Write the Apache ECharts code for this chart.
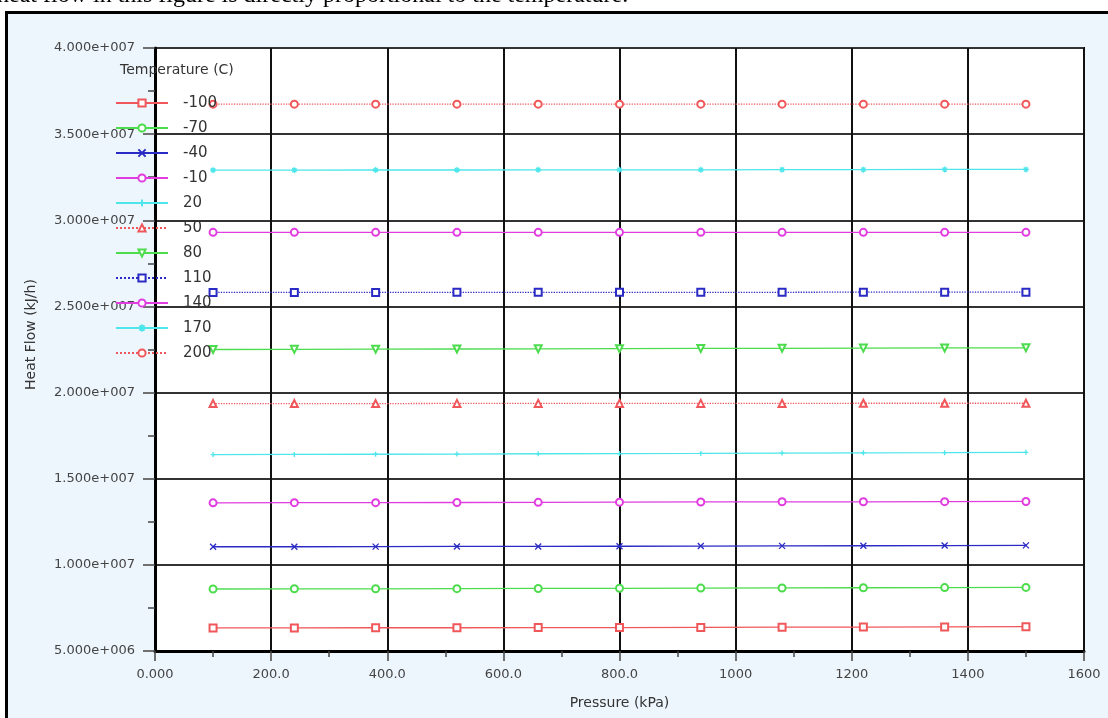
<!DOCTYPE html>
<html>
<head>
<meta charset="utf-8">
<script src="https://cdn.jsdelivr.net/npm/echarts@6/dist/echarts.min.js"></script>
<style>
  html, body { margin: 0; padding: 0; background: #fff; }
  #main { width: 1108px; height: 718px; }
</style>
</head>
<body>
<div id="main"></div>
<script>
// pressure points (kPa)
const pressure = [100, 240, 380, 520, 660, 800, 940, 1080, 1220, 1360, 1500]
const temps = ['-100', '-70', '-40', '-10', '20', '50', '80', '110', '140', '170', '200']

// heat flow (kJ/h) for each temperature
const hfM100 = [6.34e6, 6.34e6, 6.35e6, 6.35e6, 6.36e6, 6.36e6, 6.37e6, 6.38e6, 6.39e6, 6.40e6, 6.41e6]
const hfM70 = [8.60e6, 8.61e6, 8.61e6, 8.62e6, 8.63e6, 8.64e6, 8.65e6, 8.66e6, 8.67e6, 8.68e6, 8.69e6]
const hfM40 = [1.105e7, 1.105e7, 1.106e7, 1.107e7, 1.107e7, 1.108e7, 1.109e7, 1.110e7, 1.111e7, 1.112e7, 1.113e7]
const hfM10 = [1.360e7, 1.361e7, 1.361e7, 1.362e7, 1.363e7, 1.364e7, 1.365e7, 1.366e7, 1.366e7, 1.367e7, 1.368e7]
const hf20 = [1.640e7, 1.641e7, 1.642e7, 1.643e7, 1.645e7, 1.646e7, 1.647e7, 1.649e7, 1.650e7, 1.651e7, 1.653e7]
const hf50 = [1.936e7, 1.936e7, 1.936e7, 1.937e7, 1.937e7, 1.937e7, 1.937e7, 1.937e7, 1.938e7, 1.938e7, 1.938e7]
const hf80 = [2.250e7, 2.251e7, 2.252e7, 2.253e7, 2.254e7, 2.255e7, 2.256e7, 2.257e7, 2.258e7, 2.259e7, 2.260e7]
const hf110 = [2.581e7, 2.581e7, 2.581e7, 2.582e7, 2.582e7, 2.582e7, 2.582e7, 2.582e7, 2.583e7, 2.583e7, 2.583e7]
const hf140 = [2.930e7, 2.930e7, 2.930e7, 2.930e7, 2.930e7, 2.930e7, 2.930e7, 2.930e7, 2.930e7, 2.930e7, 2.930e7]
const hf170 = [3.291e7, 3.291e7, 3.292e7, 3.292e7, 3.293e7, 3.293e7, 3.293e7, 3.294e7, 3.294e7, 3.295e7, 3.295e7]
const hf200 = [3.674e7, 3.674e7, 3.674e7, 3.674e7, 3.674e7, 3.674e7, 3.674e7, 3.674e7, 3.674e7, 3.674e7, 3.674e7]

const xTickLabels = ['0.000', '200.0', '400.0', '600.0', '800.0', '1000', '1200', '1400', '1600']
const yTickLabels = ['5.000e+006', '1.000e+007', '1.500e+007', '2.000e+007', '2.500e+007', '3.000e+007', '3.500e+007', '4.000e+007']

const RED = '#f0575a', GREEN = '#4ddc4d', BLUE = '#2a2ac4', MAG = '#e03ce0', CYAN = '#4ee6ea'
const X_PATH = 'path://M0,0L10,10M10,0L0,10'
const STAR_PATH = 'path://M5,0L5,10M0,5L10,5M1.5,1.5L8.5,8.5M8.5,1.5L1.5,8.5'
const PLUS_PATH = 'path://M5,1L5,9M1,5L9,5'

function mkSeries(name, data, color, symbol, dotted, rotate, size) {
  return {
    name: name,
    type: 'line',
    data: pressure.map((p, i) => [p, data[i]]),
    symbol: symbol,
    symbolSize: size || 7,
    symbolRotate: rotate || 0,
    showAllSymbol: true,
    animation: false,
    lineStyle: { color: color, width: 1.3, type: dotted ? 'dotted' : 'solid' },
    itemStyle: { color: color, borderColor: color, borderWidth: 1.3 }
  }
}

const myChart = echarts.init(document.getElementById('main'))
myChart.setOption({
  backgroundColor: '#fff',
  graphic: [
    {
      type: 'rect', z: -10, silent: true,
      shape: { x: 6.5, y: 12.5, width: 1200, height: 800 },
      style: { fill: '#eef6fd', stroke: '#000', lineWidth: 3 }
    },
    {
      type: 'text', left: -3, top: -16, silent: true,
      style: {
        text: 'heat flow in this figure is directly proportional to the temperature.',
        font: '24px "Liberation Serif"', fill: '#000'
      }
    }
  ],
  title: {
    text: 'Temperature (C)',
    left: 120, top: 63, padding: 0,
    textStyle: { fontFamily: 'DejaVu Sans', fontSize: 14, fontWeight: 'normal', color: '#333' }
  },
  legend: {
    orient: 'vertical',
    left: 115, top: 95, padding: 0,
    itemWidth: 52, itemHeight: 9, itemGap: 9,
    data: temps,
    textStyle: { fontFamily: 'DejaVu Sans', fontSize: 15, lineHeight: 16, color: '#333', padding: [0, 0, 0, 10] }
  },
  grid: {
    left: 155, right: 24, top: 48, bottom: 67,
    show: true, backgroundColor: '#fff', borderColor: '#000', borderWidth: 2
  },
  xAxis: {
    type: 'value', min: 0, max: 1600, interval: 200,
    name: 'Pressure (kPa)', nameLocation: 'middle', nameGap: 45,
    nameTextStyle: { fontFamily: 'DejaVu Sans', fontSize: 14, color: '#333' },
    axisLine: { show: true, lineStyle: { color: '#000', width: 3 } },
    axisTick: { show: true, length: 10, lineStyle: { color: '#444', width: 1.5 } },
    minorTick: { show: true, splitNumber: 2, length: 6, lineStyle: { color: '#444', width: 1.5 } },
    axisLabel: {
      margin: 17, fontFamily: 'DejaVu Sans', fontSize: 13, color: '#444',
      formatter: v => xTickLabels[Math.round(v / 200)]
    },
    splitLine: { show: true, lineStyle: { color: '#111', width: 2 } }
  },
  yAxis: {
    type: 'value', min: 5e6, max: 4e7, interval: 5e6,
    name: 'Heat Flow (kJ/h)', nameLocation: 'middle', nameGap: 117,
    nameTextStyle: { fontFamily: 'DejaVu Sans', fontSize: 14, color: '#333', padding: [0, 0, 0, 30] },
    axisLine: { show: true, lineStyle: { color: '#000', width: 3 } },
    axisTick: { show: true, length: 12, lineStyle: { color: '#444', width: 1.5 } },
    minorTick: { show: true, splitNumber: 2, length: 7, lineStyle: { color: '#444', width: 1.5 } },
    axisLabel: {
      margin: 20, fontFamily: 'DejaVu Sans', fontSize: 13, color: '#444',
      formatter: v => yTickLabels[Math.round((v - 5e6) / 5e6)]
    },
    splitLine: { show: true, lineStyle: { color: '#333', width: 2 } }
  },
  series: [
    mkSeries('-100', hfM100, RED, 'emptyRect', false),
    mkSeries('-70', hfM70, GREEN, 'emptyCircle', false),
    mkSeries('-40', hfM40, BLUE, X_PATH, false, 0, 6),
    mkSeries('-10', hfM10, MAG, 'emptyCircle', false),
    mkSeries('20', hf20, CYAN, PLUS_PATH, false, 0, 5),
    mkSeries('50', hf50, RED, 'emptyTriangle', true),
    mkSeries('80', hf80, GREEN, 'emptyTriangle', false, 180),
    mkSeries('110', hf110, BLUE, 'emptyRect', true),
    mkSeries('140', hf140, MAG, 'emptyCircle', false),
    mkSeries('170', hf170, CYAN, STAR_PATH, false, 0, 6),
    mkSeries('200', hf200, RED, 'emptyCircle', true)
  ]
})
myChart.resize()
</script>
</body>
</html>
